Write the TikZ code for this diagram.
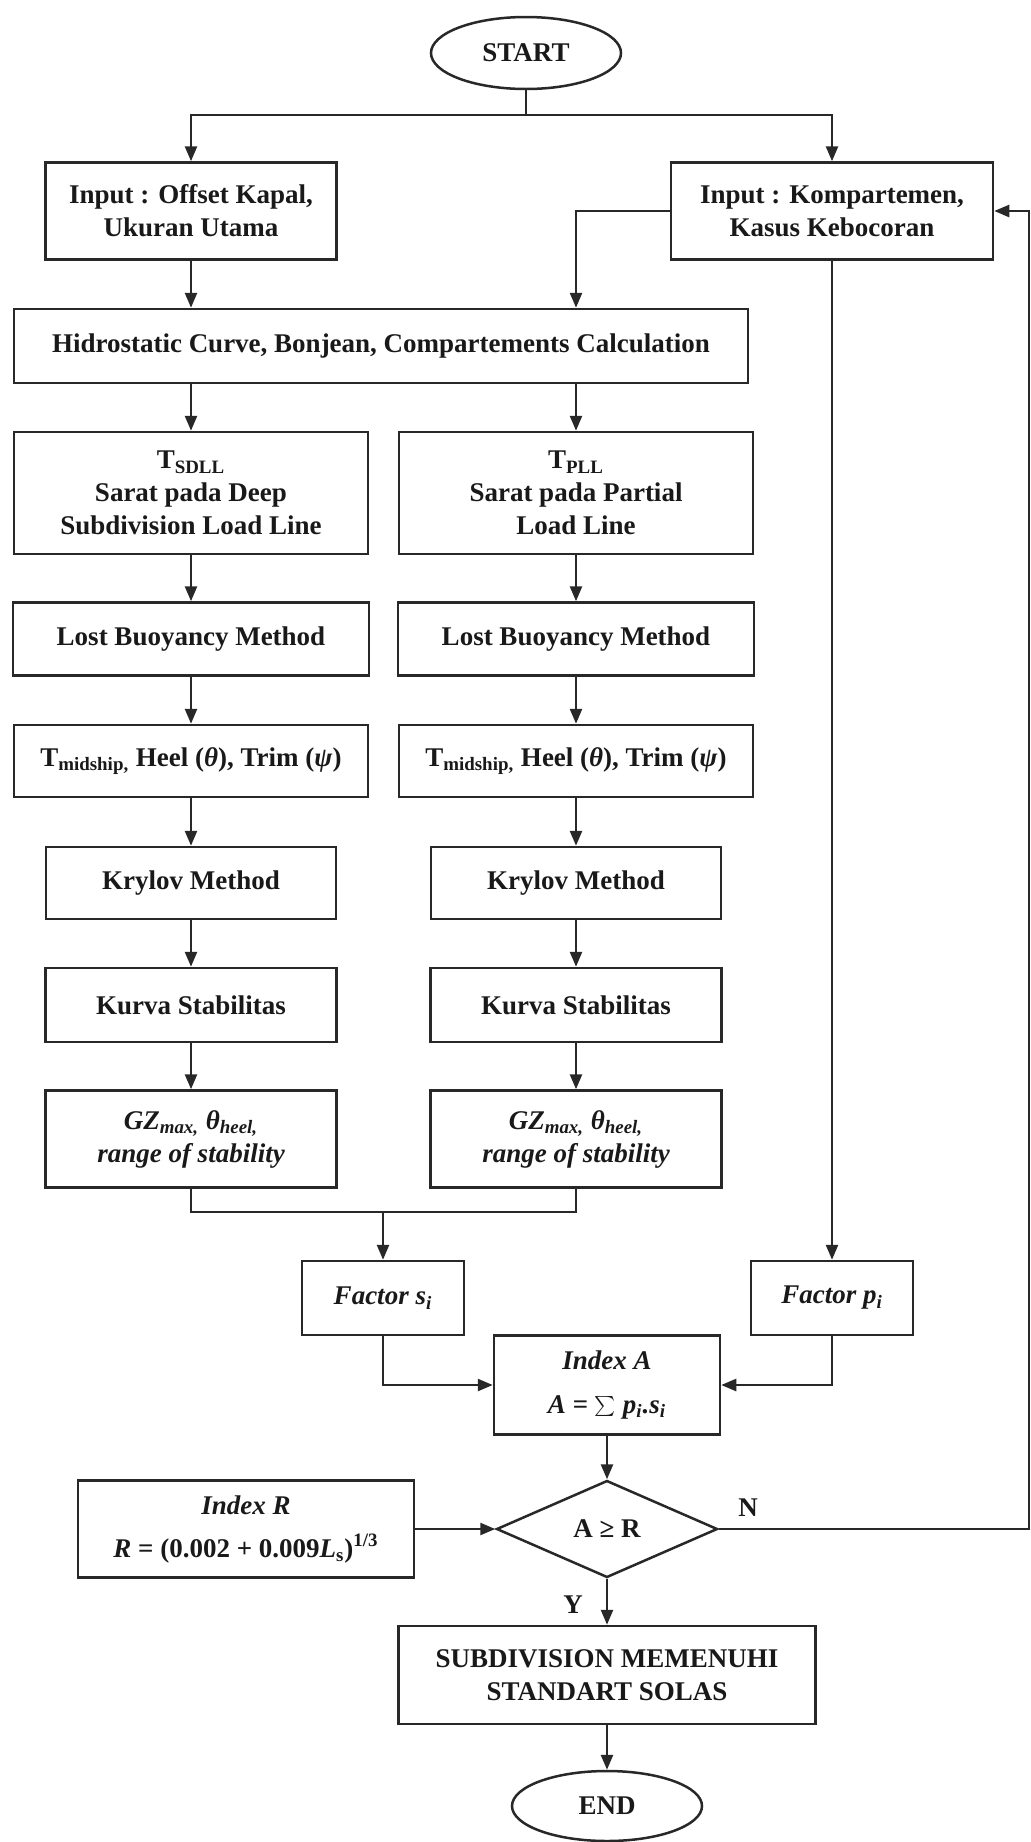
\documentclass[tikz,border=0pt]{standalone}
\usepackage{fontspec}
\setmainfont{Liberation Serif}
\usetikzlibrary{shapes.geometric,arrows.meta}
\definecolor{ink}{RGB}{40,40,40}
\begin{document}
\begin{tikzpicture}[x=0.5pt,y=-0.5pt,
  bw/.style={minimum width=#1*0.5pt},
  bh/.style={minimum height=#1*0.5pt},
  box/.style={draw=ink,line width=1.25pt,rectangle,align=center,inner sep=2pt,
    font=\fontsize{13.5}{16.5}\selectfont\bfseries,text=black!90},
  oval/.style={draw=ink,line width=1.25pt,ellipse,inner sep=0pt,
    font=\fontsize{13.5}{16.5}\selectfont\bfseries,text=black!90},
  decision/.style={draw=ink,line width=1.25pt,diamond,inner sep=0pt,aspect=2.3,
    font=\fontsize{13.5}{16.5}\selectfont\bfseries,text=black!90},
  lbl/.style={font=\fontsize{13.5}{16.5}\selectfont\bfseries,text=black!90,inner sep=0pt},
  conn/.style={draw=ink,line width=1.25pt},
  arr/.style={conn,-{Triangle[length=7.5pt,width=6pt]}}]
\useasboundingbox[fill=white] (0,0) rectangle (1031,1842);

% nodes
\node[oval,bw=190,bh=72] (start) at (526,53) {START};
\node[box,bw=291,bh=97] (inL) at (191,211) {Input : Offset Kapal,\\Ukuran Utama};
\node[box,bw=322,bh=97] (inR) at (832,211) {Input : Kompartemen,\\Kasus Kebocoran};
\node[box,bw=734,bh=74] (hidro) at (381,346) {Hidrostatic Curve, Bonjean, Compartements Calculation};

\node[box,bw=354,bh=122] (sdll) at (191,493) {T\textsubscript{SDLL}\\Sarat pada Deep\\Subdivision Load Line};
\node[box,bw=354,bh=122] (pll) at (576,493) {T\textsubscript{PLL}\\Sarat pada Partial\\Load Line};

\node[box,bw=356,bh=73] (lb1) at (191,639) {Lost Buoyancy Method};
\node[box,bw=356,bh=73] (lb2) at (576,639) {Lost Buoyancy Method};

\node[box,bw=354,bh=72] (tm1) at (191,761) {T\textsubscript{midship,} Heel (\textit{θ}), Trim (\textit{ψ})};
\node[box,bw=354,bh=72] (tm2) at (576,761) {T\textsubscript{midship,} Heel (\textit{θ}), Trim (\textit{ψ})};

\node[box,bw=290,bh=72] (kr1) at (191,883) {Krylov Method};
\node[box,bw=290,bh=72] (kr2) at (576,883) {Krylov Method};

\node[box,bw=291,bh=74] (ku1) at (191,1005) {Kurva Stabilitas};
\node[box,bw=291,bh=74] (ku2) at (576,1005) {Kurva Stabilitas};

\node[box,bw=291,bh=97,font=\fontsize{13.5}{16.5}\selectfont\bfseries\itshape] (gz1) at (191,1139) {GZ\textsubscript{max,} θ\textsubscript{heel,}\\range of stability};
\node[box,bw=291,bh=97,font=\fontsize{13.5}{16.5}\selectfont\bfseries\itshape] (gz2) at (576,1139) {GZ\textsubscript{max,} θ\textsubscript{heel,}\\range of stability};

\coordinate (mg) at (383,1212);
\node[box,bw=162,bh=74,font=\fontsize{13.5}{16.5}\selectfont\bfseries\itshape] (fs) at (383,1298) {Factor s\textsubscript{i}};
\node[box,bw=162,bh=74,font=\fontsize{13.5}{16.5}\selectfont\bfseries\itshape] (fp) at (832,1298) {Factor p\textsubscript{i}};

\node[box,bw=226,bh=99,font=\fontsize{13.5}{22}\selectfont\bfseries\itshape] (ia) at (607,1385) {Index A\\A = $\sum$ p\textsubscript{i}.s\textsubscript{i}};

\node[decision,bw=221,bh=97] (dia) at (607,1529) {A ≥ R};
\node[box,bw=336,bh=97,font=\fontsize{13.5}{21.5}\selectfont\bfseries] (ir) at (246,1529) {\textit{Index R}\\\textit{R} = (0.002 + 0.009\textit{L}\textsubscript{s})\textsuperscript{1/3}};

\node[box,bw=417,bh=98] (sub) at (607,1675) {SUBDIVISION MEMENUHI\\STANDART SOLAS};
\node[oval,bw=190,bh=70] (end) at (607,1806) {END};

\node[lbl] (nl) at (748,1508) {N};
\node[lbl] (yl) at (573,1605) {Y};

\coordinate (br) at (526,115);
\coordinate (rt) at (1029,1529);

% connectors
\draw[conn] (start.south) -- (br);
\draw[arr] (br) -| (inL.north);
\draw[arr] (br) -| (inR.north);
\draw[arr] (inL.south) -- (inL.south |- hidro.north);
\draw[arr] (inR.west) -| (pll.north |- hidro.north);
\draw[arr] (inR.south) -- (fp.north);

\draw[arr] (sdll.north |- hidro.south) -- (sdll.north);
\draw[arr] (pll.north |- hidro.south) -- (pll.north);

\draw[arr] (sdll.south) -- (lb1.north);
\draw[arr] (lb1.south) -- (tm1.north);
\draw[arr] (tm1.south) -- (kr1.north);
\draw[arr] (kr1.south) -- (ku1.north);
\draw[arr] (ku1.south) -- (gz1.north);

\draw[arr] (pll.south) -- (lb2.north);
\draw[arr] (lb2.south) -- (tm2.north);
\draw[arr] (tm2.south) -- (kr2.north);
\draw[arr] (kr2.south) -- (ku2.north);
\draw[arr] (ku2.south) -- (gz2.north);

\draw[conn] (gz1.south) |- (mg);
\draw[conn] (gz2.south) |- (mg);
\draw[arr] (mg) -- (fs.north);

\draw[arr] (fs.south) |- (ia.west);
\draw[arr] (fp.south) |- (ia.east);
\draw[arr] (ia.south) -- (dia.north);
\draw[arr] (ir.east) -- (dia.west);
\draw[arr] (dia.south) -- (sub.north);
\draw[arr] (sub.south) -- (end.north);
\draw[arr] (dia.east) -- (rt) |- (inR.east);
\end{tikzpicture}
\end{document}
